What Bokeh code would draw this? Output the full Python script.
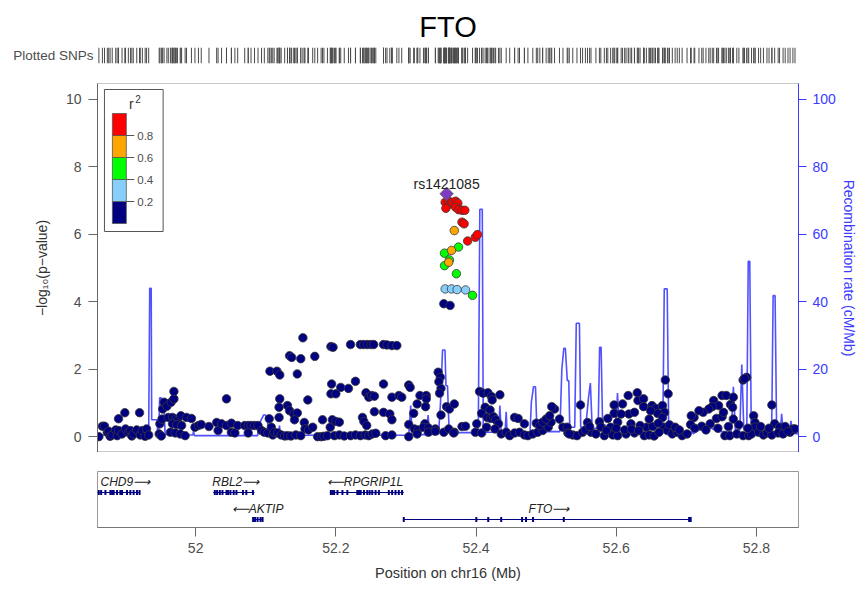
from bokeh.plotting import figure
from bokeh.layouts import column
from bokeh.models import (Range1d, LinearAxis, FixedTicker, CustomJSTickFormatter)
from bokeh.core.properties import value
from bokeh.embed import file_html
from bokeh.resources import INLINE

FONT = "Liberation Sans"

# ---------------------------------------------------------------- SNP data
# position on chr16 (Mb) and -log10(p) per LD class (r^2 with rs1421085)
navy_pos = [
    51.862, 51.867, 51.870, 51.874, 51.876, 51.878, 51.881, 51.886, 51.888, 51.890,
    51.890, 51.895, 51.899, 51.900, 51.904, 51.907, 51.909, 51.911, 51.916, 51.920,
    51.921, 51.924, 51.928, 51.930, 51.933, 51.948, 51.951, 51.949, 51.952, 51.953,
    51.955, 51.959, 51.961, 51.965, 51.969, 51.969, 51.967, 51.971, 51.974, 51.979,
    51.967, 51.973, 51.980, 51.964, 51.971, 51.978, 51.985, 51.987, 51.994, 51.999,
    52.004, 52.008, 52.019, 52.030, 52.032, 52.037, 52.044, 52.044, 52.051, 52.051,
    52.056, 52.060, 52.070, 52.075, 52.079, 52.084, 52.089, 52.075, 52.094, 52.098,
    52.103, 52.105, 52.108, 52.110, 52.112, 52.117, 52.122, 52.127, 52.106, 52.116,
    52.120, 52.120, 52.119, 52.119, 52.134, 52.137, 52.150, 52.153, 52.170, 52.145,
    52.160, 52.193, 52.194, 52.193, 52.131, 52.134, 52.140, 52.145, 52.141, 52.155,
    52.156, 52.161, 52.167, 52.181, 52.192, 52.131, 52.136, 52.143, 52.150, 52.174,
    52.179, 52.183, 52.188,
    52.196, 52.221, 52.235, 52.240, 52.245, 52.250, 52.254, 52.268, 52.273, 52.280,
    52.287, 52.207, 52.218, 52.228, 52.268, 52.304, 52.306, 52.200, 52.243, 52.247,
    52.251, 52.255, 52.280, 52.290, 52.294, 52.320, 52.329, 52.329, 52.346, 52.349,
    52.347, 52.350, 52.348, 52.316, 52.328, 52.358, 52.362, 52.369, 52.350, 52.311,
    52.255, 52.268, 52.277, 52.280, 52.238, 52.240, 52.244, 52.195, 52.200, 52.205,
    52.405, 52.410, 52.417, 52.422, 52.423, 52.434, 52.401, 52.413, 52.420, 52.408,
    52.416, 52.421, 52.425, 52.428, 52.432, 52.304, 52.312, 52.317, 52.327, 52.325,
    52.332, 52.342, 52.354, 52.361, 52.369, 52.380, 52.385, 52.198, 52.205, 52.212,
    52.221, 52.228, 52.235, 52.242, 52.247, 52.252, 52.257, 52.271, 52.280, 52.304,
    52.316, 52.332, 52.342, 52.368, 52.399, 52.408, 52.415, 52.427, 52.436, 52.443,
    52.448, 52.455, 52.462, 52.469, 52.474, 52.481, 52.488, 52.495, 52.503, 52.507,
    52.512, 52.508, 52.519, 52.524, 52.530, 52.531, 52.538, 52.544, 52.455, 52.460,
    52.469, 52.486, 52.491, 52.495, 52.500, 52.505, 52.354, 52.363,
    52.670, 52.674, 52.786, 52.781, 52.783, 52.822, 52.549, 52.630, 52.617, 52.631,
    52.639, 52.639, 52.597, 52.609, 52.597, 52.618, 52.626, 52.651, 52.656, 52.666,
    52.669, 52.659, 52.649, 52.647, 52.643, 52.666, 52.668, 52.739, 52.751, 52.757,
    52.746, 52.737, 52.732, 52.724, 52.718, 52.711, 52.707, 52.706, 52.722, 52.734,
    52.743, 52.751, 52.753, 52.763, 52.766, 52.767, 52.767, 52.796, 52.798, 52.798,
    52.826, 52.833, 52.841, 52.852, 52.559, 52.576, 52.588, 52.578, 52.592, 52.602,
    52.607, 52.621, 52.634, 52.533, 52.552, 52.564, 52.571, 52.583, 52.595, 52.602,
    52.614, 52.626, 52.640, 52.647, 52.654, 52.661, 52.673, 52.680, 52.687, 52.694,
    52.701, 52.755, 52.762, 52.772, 52.781, 52.789, 52.793, 52.803, 52.810, 52.815,
    52.822, 52.831, 52.838, 52.848, 52.855, 52.556, 52.562, 52.586, 52.600, 52.612,
    52.622, 52.632, 52.652, 52.660, 52.676, 52.684, 52.690, 52.712, 52.728, 52.745,
    52.760, 52.775, 52.788, 52.806, 52.818, 52.845,
]
navy_logp = [
    0.00, 0.31, 0.31, 0.13, 0.16, 0.01, 0.05, 0.20, 0.03, 0.18,
    0.53, 0.08, 0.71, 0.23, 0.13, 0.18, 0.02, 0.08, 0.20, 0.71,
    0.05, 0.18, 0.01, 0.23, 0.05, 0.08, 0.02, 0.38, 0.52, 0.82,
    1.02, 0.90, 0.57, 1.02, 1.12, 1.34, 0.57, 0.52, 0.48, 0.62,
    0.38, 0.36, 0.33, 0.13, 0.11, 0.08, 0.03, 0.57, 0.54, 0.28,
    0.33, 0.36, 0.30, 0.42, 0.18, 0.38, 1.12, 0.33, 0.40, 0.13,
    0.11, 0.33, 0.33, 0.33, 0.33, 0.33, 0.33, 0.11, 0.18, 0.13,
    0.11, 0.53, 0.28, 0.05, 0.13, 0.11, 0.05, 0.02, 1.94, 1.94,
    1.83, 1.12, 0.87, 0.57, 2.40, 2.35, 2.31, 2.93, 2.38, 1.86,
    1.09, 2.67, 1.56, 1.27, 0.92, 0.77, 0.67, 0.70, 0.50, 0.42,
    0.23, 0.20, 0.28, 0.50, 0.28, 0.03, 0.02, 0.05, 0.03, 0.00,
    0.00, 0.01, 0.03,
    2.65, 2.73, 2.73, 2.73, 2.73, 2.73, 2.73, 2.73, 2.72, 2.70,
    2.70, 1.46, 1.43, 1.64, 1.56, 1.53, 1.46, 1.27, 1.30, 1.17,
    1.22, 1.20, 1.17, 1.22, 1.17, 1.22, 1.22, 1.12, 1.91, 1.76,
    1.63, 1.43, 1.29, 0.97, 0.89, 0.89, 0.82, 0.97, 0.64, 0.69,
    0.74, 0.72, 0.67, 0.50, 0.57, 0.45, 0.33, 0.50, 0.45, 0.43,
    1.34, 1.29, 1.30, 1.19, 1.09, 1.24, 0.38, 0.87, 0.79, 0.69,
    0.57, 0.54, 0.59, 0.50, 0.38, 0.36, 0.23, 0.20, 0.38, 0.28,
    0.26, 0.23, 0.13, 0.23, 0.13, 0.30, 0.31, 0.03, 0.05, 0.02,
    0.03, 0.05, 0.03, 0.05, 0.03, 0.08, 0.10, 0.03, 0.05, 0.00,
    0.08, 0.13, 0.16, 0.11, 0.13, 0.11, 0.28, 0.23, 0.08, 0.13,
    0.03, 0.11, 0.13, 0.05, 0.03, 0.08, 0.13, 0.18, 0.28, 0.43,
    0.82, 0.89, 0.52, 0.28, 0.28, 0.11, 0.05, 0.03, 0.57, 0.54,
    0.38, 0.40, 0.33, 0.43, 0.52, 0.62, 3.94, 3.89,
    1.68, 1.27, 1.76, 1.68, 1.72, 0.94, 0.94, 1.30, 1.22, 1.07,
    1.12, 0.89, 0.94, 0.97, 0.69, 0.67, 0.72, 0.92, 0.84, 0.92,
    0.72, 0.69, 0.77, 0.52, 0.28, 0.57, 0.28, 1.07, 1.22, 1.22,
    0.92, 0.89, 0.82, 0.72, 0.77, 0.57, 0.62, 0.36, 0.31, 0.38,
    0.54, 0.59, 0.72, 0.95, 0.87, 1.17, 0.52, 0.62, 0.42, 0.28,
    0.38, 0.28, 0.30, 0.23, 0.42, 0.44, 0.54, 0.28, 0.28, 0.43,
    0.67, 0.38, 0.33, 0.08, 0.13, 0.13, 0.08, 0.03, 0.05, 0.03,
    0.08, 0.11, 0.03, 0.05, 0.02, 0.13, 0.18, 0.08, 0.13, 0.03,
    0.08, 0.03, 0.03, 0.08, 0.03, 0.03, 0.08, 0.13, 0.05, 0.11,
    0.05, 0.11, 0.08, 0.13, 0.23, 0.20, 0.30, 0.18, 0.25, 0.20,
    0.22, 0.18, 0.30, 0.40, 0.35, 0.28, 0.20, 0.25, 0.20, 0.25,
    0.30, 0.35, 0.25, 0.30, 0.25, 0.15,
]
lblue_pos = [52.356, 52.365, 52.373, 52.385]
lblue_logp = [4.38, 4.38, 4.36, 4.35]
green_pos = [52.375, 52.355, 52.362, 52.355, 52.372, 52.395]
green_logp = [5.62, 5.44, 5.24, 5.07, 4.83, 4.19]
orange_pos = [52.369, 52.365, 52.361]
orange_logp = [6.11, 5.52, 5.17]
red_pos = [52.356, 52.361, 52.363, 52.366, 52.371, 52.374, 52.371, 52.357,
           52.375, 52.380, 52.384, 52.380, 52.383, 52.388, 52.399, 52.402]
red_logp = [6.95, 6.98, 6.90, 6.95, 6.98, 6.92, 6.80, 6.77,
            6.73, 6.71, 6.71, 6.36, 6.31, 5.80, 5.91, 5.99]
index_snp = "rs1421085"
index_pos = 52.358
index_logp = 7.20

# LD legend: class colours (low to high) and the r^2 breaks between them
r2_colors = ["#000080", "#87CEFA", "#00FF00", "#FFA500", "#FF0000"]
r2_breaks = [0.2, 0.4, 0.6, 0.8]

# --------------------------------------------------- recombination rate
recomb_pos = [
    51.8600, 51.9295, 51.9330, 51.9345, 51.9366, 51.9373, 51.9451, 51.9458, 51.9472, 51.9487,
    51.9508, 51.9529, 51.9550, 51.9565, 51.9777, 51.9799, 51.9813, 51.9962, 51.9969, 51.9983,
    52.0884, 52.0912, 52.0969, 52.0997, 52.1025, 52.1054, 52.1181, 52.1196, 52.1210, 52.3040,
    52.3068, 52.3089, 52.3295, 52.3316, 52.3337, 52.3465, 52.3493, 52.3522, 52.3557, 52.3571,
    52.3593, 52.3614, 52.3678, 52.4032, 52.4054, 52.4089, 52.4103, 52.4323, 52.4340, 52.4359,
    52.4415, 52.4430, 52.4444, 52.4770, 52.4789, 52.4820, 52.4848, 52.4869, 52.5196, 52.5224,
    52.5252, 52.5274, 52.5302, 52.5323, 52.5337, 52.5408, 52.5430, 52.5475, 52.5493, 52.5564,
    52.5607, 52.5631, 52.5657, 52.5742, 52.5763, 52.5784, 52.5805, 52.5990, 52.6018, 52.6047,
    52.6664, 52.6685, 52.6727, 52.6749, 52.7068, 52.7082, 52.7096, 52.7224, 52.7366, 52.7437,
    52.7642, 52.7671, 52.7699, 52.7763, 52.7791, 52.7820, 52.7862, 52.7883, 52.7905, 52.7926,
    52.8217, 52.8238, 52.8266, 52.8288, 52.8344, 52.8359, 52.8380, 52.8472, 52.8493, 52.8515,
    52.8600,
]
recomb_rate = [
    0.5, 0.4, 0.5, 44.0, 44.0, 5.0, 5.0, 0.4, 0.4, 11.5,
    11.5, 8.5, 8.5, 0.6, 0.6, 2.8, 0.5, 0.5, 1.6, 0.3,
    0.3, 4.0, 6.4, 6.4, 4.5, 0.6, 0.6, 3.3, 0.4, 0.4,
    9.2, 0.6, 0.6, 6.4, 0.6, 0.8, 10.0, 25.7, 25.7, 15.1,
    15.1, 2.8, 1.2, 1.2, 67.4, 67.4, 1.3, 1.3, 9.2, 1.3,
    1.3, 7.4, 1.0, 1.0, 10.2, 14.8, 14.8, 1.5, 1.5, 20.0,
    26.2, 26.2, 16.6, 16.6, 2.8, 2.8, 33.6, 33.6, 2.8, 2.8,
    12.0, 15.9, 2.5, 2.5, 26.5, 26.5, 3.9, 1.2, 12.9, 1.0,
    1.0, 43.8, 43.8, 0.8, 0.8, 3.0, 0.8, 2.5, 2.5, 1.5,
    1.5, 14.8, 2.0, 2.0, 21.4, 2.0, 2.0, 52.0, 52.0, 1.5,
    1.5, 41.8, 41.8, 1.5, 1.5, 6.8, 1.5, 1.5, 4.7, 1.0,
    0.8,
]

# ------------------------------------------------------------------ genes
gene_names = ["CHD9", "RBL2", "RPGRIP1L", "AKTIP", "FTO"]
gene_strand = ["+", "+", "-", "-", "+"]
gene_start = [51.800, 52.025, 52.1915, 52.0817, 52.2969]
gene_end = [51.9205, 52.084, 52.2969, 52.0959, 52.7068]
gene_row = [1, 1, 1, 2, 2]
gene_label_x = [51.8997, 52.0572, 52.2416, 52.0884, 52.5040]
gene_exons = [
    [51.8618, 51.8652, 51.8713, 51.8784, 51.8808, 51.8831, 51.8879, 51.8926,
     51.8950, 51.9021, 51.9068, 51.9115, 51.9163, 51.9200],
    [52.0274, 52.0306, 52.0345, 52.0383, 52.0440, 52.0462, 52.0496, 52.0543,
     52.0582, 52.0675, 52.0723, 52.0817],
    [52.1929, 52.1952, 52.1976, 52.2023, 52.2094, 52.2164, 52.2306, 52.2330,
     52.2354, 52.2401, 52.2448, 52.2482, 52.2519, 52.2567, 52.2614, 52.2756,
     52.2803, 52.2851, 52.2898, 52.2945],
    [52.0820, 52.0848, 52.0884, 52.0926, 52.0955],
    [52.2969, 52.4004, 52.4174, 52.4359, 52.4657, 52.4713, 52.4813, 52.5252,
     52.7040, 52.7062],
]

# ---------------------------------------------------------------- layout
W, H = 859, 589
LEFT, RIGHT = 97, 57
X_START, X_END = 51.86, 52.86
HEAD_H, MAIN_H = 75, 377
MAIN_TOP = 8


def style_common(p):
    p.grid.visible = False
    p.background_fill_color = "white"
    p.border_fill_color = "white"


x_range = Range1d(X_START, X_END)

# header: title above a rug of every plotted SNP position
all_pos = navy_pos + lblue_pos + green_pos + orange_pos + red_pos + [index_pos]

head = figure(width=W, height=HEAD_H, x_range=x_range, y_range=Range1d(0, 1),
              title="FTO", x_axis_location=None, y_axis_location="left",
              toolbar_location=None, output_backend="svg",
              min_border_left=LEFT, min_border_right=RIGHT,
              min_border_top=47, min_border_bottom=12, outline_line_color=None)
style_common(head)
head.title.align = "center"
head.title.text_font = FONT
head.title.text_font_size = "29px"
head.title.text_font_style = "normal"
head.title.text_color = "black"
head.title.standoff = 9
hax = head.yaxis[0]
hax.ticker = FixedTicker(ticks=[])
hax.axis_line_color = None
hax.major_tick_line_color = None
hax.minor_tick_line_color = None
hax.axis_label = "Plotted SNPs"
hax.axis_label_orientation = "horizontal"
hax.axis_label_standoff = 4
hax.axis_label_text_font = FONT
hax.axis_label_text_font_size = "13.5px"
hax.axis_label_text_font_style = "normal"
hax.axis_label_text_color = "#4d4d4d"
head.segment(x0=all_pos, y0=0, x1=all_pos, y1=1, line_color="#4a4a4a", line_width=1)

# association panel
main = figure(width=W, height=MAIN_H, x_range=x_range,
              y_range=Range1d(-0.47, 10.47),
              x_axis_location=None, y_axis_location="left",
              min_border_left=LEFT, min_border_right=RIGHT,
              min_border_top=MAIN_TOP, min_border_bottom=0,
              toolbar_location=None, output_backend="svg",
              outline_line_color="#c8c8c8")
style_common(main)
main.extra_y_ranges = {"recomb": Range1d(-4.7, 104.7),
                       "px": Range1d(HEAD_H + MAIN_H, HEAD_H + MAIN_TOP)}
main.extra_x_ranges = {"px": Range1d(LEFT, W - RIGHT)}

yax = main.yaxis[0]
yax.ticker = FixedTicker(ticks=[0, 2, 4, 6, 8, 10])
yax.major_tick_in = 0
yax.major_tick_out = 9
yax.minor_tick_line_color = None
yax.axis_line_color = "#666666"
yax.major_tick_line_color = "#666666"
yax.major_label_text_font = FONT
yax.major_label_text_font_size = "14px"
yax.major_label_text_color = "#4d4d4d"
yax.major_label_standoff = 7
yax.axis_label = "\u2212log\u2081\u2080(p\u2212value)"
yax.axis_label_text_font = FONT
yax.axis_label_text_font_size = "14px"
yax.axis_label_text_font_style = "normal"
yax.axis_label_text_color = "#333333"
yax.axis_label_standoff = 13

BLUE = "#3b3bff"
rax = LinearAxis(y_range_name="recomb", ticker=FixedTicker(ticks=[0, 20, 40, 60, 80, 100]),
                 axis_label="Recombination rate (cM/Mb)")
rax.major_tick_in = 0
rax.major_tick_out = 8
rax.minor_tick_line_color = None
rax.axis_line_color = BLUE
rax.major_tick_line_color = BLUE
rax.major_label_text_font = FONT
rax.major_label_text_font_size = "14px"
rax.major_label_text_color = BLUE
rax.major_label_standoff = 6
rax.axis_label_text_font = FONT
rax.axis_label_text_font_size = "14px"
rax.axis_label_text_font_style = "normal"
rax.axis_label_text_color = BLUE
rax.axis_label_standoff = 2
main.add_layout(rax, "right")

main.line(recomb_pos, recomb_rate, y_range_name="recomb", line_color="#3333ff",
          line_width=1.6, line_alpha=0.85)

classes = [
    (navy_pos, navy_logp),
    (lblue_pos, lblue_logp),
    (green_pos, green_logp),
    (orange_pos, orange_logp),
    (red_pos, red_logp),
]
for (xs, ys), col in zip(classes, r2_colors):
    main.scatter(xs, ys, marker="circle", size=8.5, fill_color=col,
                 line_color="#3a3a3a", line_width=0.8)

main.scatter([index_pos], [index_logp], marker="square", angle=0.785398, size=9.5,
             fill_color="#7D3CC0", line_color="#555555", line_width=0.8)
main.text(x=[index_pos], y=[index_logp], text=[index_snp], y_offset=-10,
          text_align="center", text_baseline="alphabetic", text_font=value(FONT),
          text_font_size="14px", text_color="#222222")

# LD legend box (drawn in page-pixel coordinates of this panel)
BOX_L, BOX_R, BOX_T, BOX_B = 104, 163, 89, 231
BAR_L, BAR_R, BAR_BOTTOM, STEP = 112, 126, 223, 22
main.quad(left=[BOX_L], right=[BOX_R], top=[BOX_T], bottom=[BOX_B],
          x_range_name="px", y_range_name="px",
          fill_color="white", line_color="#555555", line_width=1)
n = len(r2_colors)
main.quad(left=[BAR_L] * n, right=[BAR_R] * n,
          bottom=[BAR_BOTTOM - STEP * i for i in range(n)],
          top=[BAR_BOTTOM - STEP * (i + 1) for i in range(n)],
          x_range_name="px", y_range_name="px",
          fill_color=r2_colors, line_color="#555555", line_width=0.8)
tick_y = [BAR_BOTTOM - STEP * (i + 1) for i in range(len(r2_breaks))]
main.segment(x0=[BAR_R] * len(tick_y), x1=[BAR_R + 8] * len(tick_y), y0=tick_y, y1=tick_y,
             x_range_name="px", y_range_name="px", line_color="#555555", line_width=1)
main.text(x=[BAR_R + 11] * len(tick_y), y=tick_y, text=[f"{b:.1f}" for b in r2_breaks],
          x_range_name="px", y_range_name="px", text_align="left", text_baseline="middle",
          text_font=value(FONT), text_font_size="11.5px", text_color="#4d4d4d")
main.text(x=[131], y=[103], text=["r"], x_range_name="px", y_range_name="px",
          text_align="center", text_baseline="middle", text_font=value(FONT),
          text_font_size="14px", text_color="#333333")
main.text(x=[135], y=[98], text=["2"], x_range_name="px", y_range_name="px",
          text_align="left", text_baseline="middle", text_font=value(FONT),
          text_font_size="10px", text_color="#333333")

# gene panel
genes = figure(width=W, height=H - HEAD_H - MAIN_H, x_range=x_range,
               y_range=Range1d(2.296, 0.222),
               x_axis_location="below", y_axis_location=None,
               min_border_left=LEFT, min_border_right=RIGHT,
               min_border_top=19, min_border_bottom=62,
               toolbar_location=None, output_backend="svg",
               outline_line_color="#9a9a9a")
style_common(genes)
xax = genes.xaxis[0]
xax.ticker = FixedTicker(ticks=[52.0, 52.2, 52.4, 52.6, 52.8])
xax.formatter = CustomJSTickFormatter(code="return tick.toFixed(1).replace(/\\.0$/, '');")
xax.major_tick_in = 0
xax.major_tick_out = 9
xax.minor_tick_line_color = None
xax.axis_line_color = "#777777"
xax.major_tick_line_color = "#666666"
xax.major_label_text_font = FONT
xax.major_label_text_font_size = "14px"
xax.major_label_text_color = "#4d4d4d"
xax.major_label_standoff = 6
xax.axis_label = "Position on chr16 (Mb)"
xax.axis_label_text_font = FONT
xax.axis_label_text_font_size = "14.5px"
xax.axis_label_text_font_style = "normal"
xax.axis_label_text_color = "#333333"
xax.axis_label_standoff = 9

genes.segment(x0=gene_start, y0=gene_row, x1=gene_end, y1=gene_row,
              line_color="#000080", line_width=1)
exon_x, exon_y = [], []
for ex, row in zip(gene_exons, gene_row):
    exon_x += ex
    exon_y += [row] * len(ex)
genes.rect(x=exon_x, y=exon_y, width=2, height=5, width_units="screen",
           height_units="screen", fill_color="#000080", line_color=None)
labels = [n + "\u27f6" if s == "+" else "\u27f5" + n for n, s in zip(gene_names, gene_strand)]
genes.text(x=gene_label_x, y=[r - 0.4 for r in gene_row], text=labels,
           text_align="center", text_baseline="middle", text_font=value(FONT),
           text_font_size="12px", text_font_style="italic", text_color="#222222")

layout = column(head, main, genes, spacing=0)
open("out.html", "w").write(file_html(layout, INLINE))
